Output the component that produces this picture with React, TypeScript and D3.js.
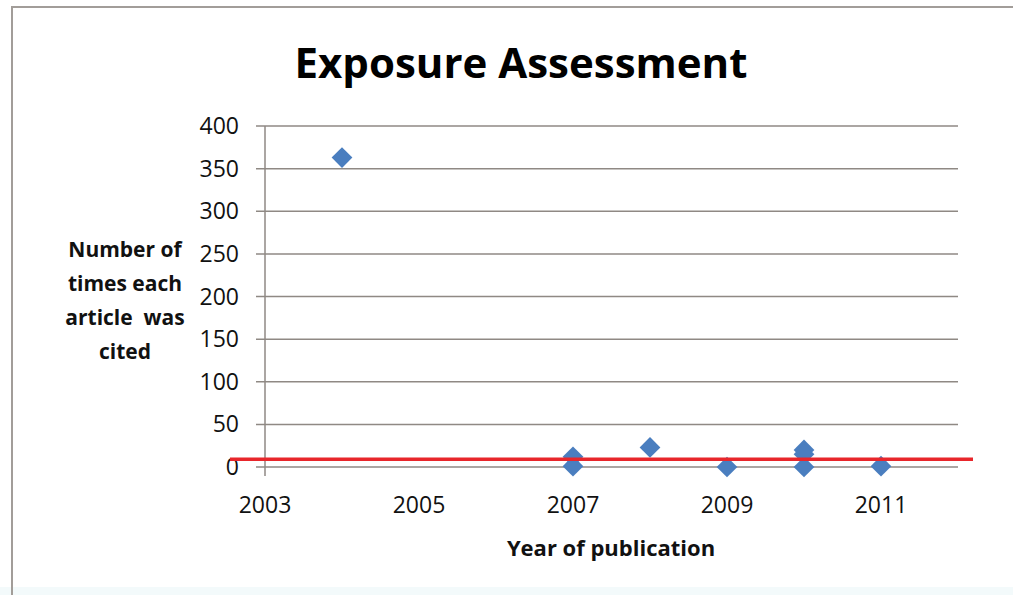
import React from 'react';
import * as d3 from 'd3';

// citation counts
const years = [2004, 2007, 2007, 2008, 2009, 2010, 2010, 2010, 2011];
const cites = [363, 12, 1, 23, 0, 20, 15, 0, 1];
const xTicks = [2003, 2005, 2007, 2009, 2011];
const yTicks = [0, 50, 100, 150, 200, 250, 300, 350, 400];
const refLevel = 9;
const yTitleLines = ['Number of', 'times each', 'article  was', 'cited'];

const W = 1013;
const H = 595;
const font = '"Open Sans", sans-serif';

const App: React.FC = () => {
  const x = d3.scaleLinear().domain([2003, 2012]).range([265, 958]);
  const y = d3.scaleLinear().domain([0, 400]).range([467, 126]);
  const diamond = d3.symbol().type(d3.symbolSquare).size(215)();

  return (
    <svg width={W} height={H} style={{ position: 'absolute', left: 0, top: 0, background: '#fff' }}>
      <rect x={0} y={587} width={W} height={H - 587} fill="#f3fafb" />
      <rect x={12} y={7} width={1010} height={H} fill="none" stroke="#a29d99" strokeWidth={2} />

      <text x={521} y={78} textAnchor="middle" fontFamily={font} fontWeight={700} fontSize={42} fill="#000">
        Exposure Assessment
      </text>

      {yTicks.map(t => (
        <g key={t}>
          <line x1={256} x2={x(2012)} y1={y(t)} y2={y(t)} stroke="#8f8984" strokeWidth={1.5} />
          <text x={239} y={y(t) + 8} textAnchor="end" fontFamily={font} fontSize={23} fill="#111">{t}</text>
        </g>
      ))}
      <line x1={x(2003)} x2={x(2003)} y1={y(400)} y2={y(0) + 9} stroke="#8f8984" strokeWidth={1.5} />

      {xTicks.map(t => (
        <text key={t} x={x(t)} y={513} textAnchor="middle" fontFamily={font} fontSize={23} fill="#111">{t}</text>
      ))}

      <text x={611} y={556} textAnchor="middle" fontFamily={font} fontWeight={700} fontSize={22} fill="#111">
        Year of publication
      </text>

      <text fontFamily={font} fontWeight={700} fontSize={21} fill="#111" textAnchor="middle">
        {yTitleLines.map((l, i) => (
          <tspan key={i} x={125} y={257 + i * 34} style={{ whiteSpace: 'pre' }}>{l}</tspan>
        ))}
      </text>

      {years.map((yr, i) => (
        <path key={i} d={diamond ?? ''} transform={`translate(${x(yr)},${y(cites[i])}) rotate(45)`} fill="#4a7ebf" />
      ))}

      <line x1={230} x2={973} y1={y(refLevel)} y2={y(refLevel)} stroke="#e8262b" strokeWidth={3.5} />
    </svg>
  );
};

export default App;
